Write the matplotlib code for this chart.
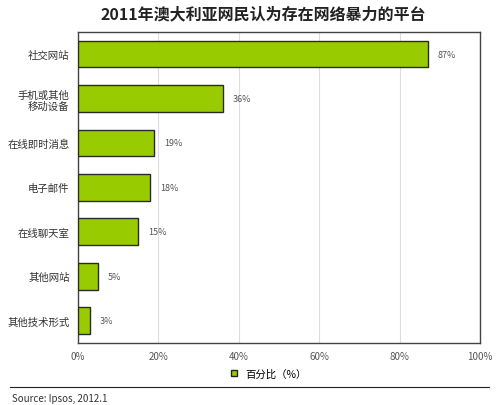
import matplotlib
matplotlib.use("Agg")
import matplotlib.pyplot as plt
from matplotlib.lines import Line2D

plt.rcParams['font.family'] = ['Noto Sans CJK SC', 'DejaVu Sans']

# datos
categorias = ['社交网站', '手机或其他\n移动设备', '在线即时消息', '电子邮件',
              '在线聊天室', '其他网站', '其他技术形式']
valores = [87, 36, 19, 18, 15, 5, 3]
ticks_x = [0, 20, 40, 60, 80, 100]

fig = plt.figure(figsize=(4.96, 4.06), dpi=100)
ax = fig.add_axes([0.157, 0.153, 0.811, 0.766])

y = list(range(len(categorias)))
ax.barh(y, valores, height=0.6, color='#99CC00', edgecolor='#2a2a2a', linewidth=1, zorder=3)
for yi, v in zip(y, valores):
    ax.text(v + 2.5, yi, f'{v}%', va='center', ha='left', fontsize=6.5, color='#555555')

ax.set_ylim(len(categorias) - 0.5, -0.5)
ax.set_yticks(y)
ax.set_yticklabels(categorias, fontsize=7.5, color='#333333')
ax.set_xlim(0, 100)
ax.set_xticks(ticks_x)
ax.set_xticklabels([f'{t}%' for t in ticks_x], fontsize=7, color='#555555')
ax.tick_params(length=0, pad=6)
ax.grid(axis='x', color='#dddddd', linewidth=0.8, zorder=0)
for s in ax.spines.values():
    s.set_color('#444444')
    s.set_linewidth(1)

fig.text(0.53, 0.965, '2011年澳大利亚网民认为存在网络暴力的平台', ha='center', va='center',
         fontsize=11.5, fontweight='bold', color='#222222')

# leyenda
marca = Line2D([], [], marker='s', linestyle='none', markersize=5,
               markerfacecolor='#99CC00', markeredgecolor='#222222')
fig.legend([marca], ['百分比（%）'], loc='center', bbox_to_anchor=(0.535, 0.077),
           frameon=False, fontsize=7.5, handletextpad=0.1, borderpad=0)

# linea y fuente
fig.add_artist(Line2D([0.02, 0.985], [0.045, 0.045], color='#222222', linewidth=0.8))
fig.text(0.025, 0.018, 'Source: Ipsos, 2012.1', ha='left', va='center', fontsize=7, color='#333333')

fig.savefig('out.png', dpi=100)
